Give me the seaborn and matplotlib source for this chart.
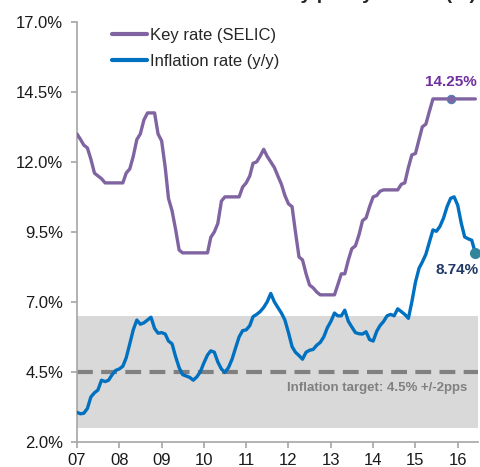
import numpy as np
import pandas as pd
import matplotlib
matplotlib.use("Agg")
import matplotlib.pyplot as plt
import seaborn as sns

# monthly observations, Jan 2007 - Jun 2016
start_month = "2007-01"
n_months = 114

selic = [
    13.0, 12.8, 12.6, 12.5, 12.1, 11.6, 11.5, 11.4, 11.25, 11.25, 11.25, 11.25,   # 2007
    11.25, 11.25, 11.6, 11.75, 12.2, 12.8, 13.0, 13.5, 13.75, 13.75, 13.75, 13.0,  # 2008
    12.75, 11.8, 10.7, 10.25, 9.6, 8.85, 8.75, 8.75, 8.75, 8.75, 8.75, 8.75,       # 2009
    8.75, 8.75, 9.3, 9.5, 9.8, 10.6, 10.75, 10.75, 10.75, 10.75, 10.75, 11.1,      # 2010
    11.25, 11.5, 11.95, 12.0, 12.2, 12.45, 12.2, 12.0, 11.8, 11.5, 11.2, 10.8,     # 2011
    10.5, 10.4, 9.5, 8.6, 8.5, 8.0, 7.6, 7.5, 7.35, 7.25, 7.25, 7.25,              # 2012
    7.25, 7.25, 7.6, 8.0, 8.0, 8.5, 8.9, 9.0, 9.4, 9.9, 10.0, 10.4,                # 2013
    10.75, 10.8, 10.95, 11.0, 11.0, 11.0, 11.0, 11.0, 11.2, 11.25, 11.8, 12.25,    # 2014
    12.3, 12.8, 13.25, 13.35, 13.8, 14.25, 14.25, 14.25, 14.25, 14.25, 14.25, 14.25,  # 2015
    14.25, 14.25, 14.25, 14.25, 14.25, 14.25,                                      # 2016
]

inflation = [
    3.05, 3.0, 3.02, 3.19, 3.6, 3.75, 3.85, 4.2, 4.15, 4.2, 4.4, 4.55,             # 2007
    4.6, 4.7, 5.0, 5.5, 6.0, 6.35, 6.2, 6.25, 6.35, 6.45, 6.05, 5.88,              # 2008
    5.9, 5.85, 5.6, 5.5, 5.05, 4.65, 4.4, 4.35, 4.3, 4.2, 4.32, 4.5,               # 2009
    4.82, 5.1, 5.25, 5.2, 4.85, 4.6, 4.48, 4.65, 4.95, 5.35, 5.75, 5.97,           # 2010
    6.0, 6.15, 6.47, 6.55, 6.65, 6.8, 7.0, 7.3, 7.0, 6.8, 6.6, 6.35,               # 2011
    5.9, 5.4, 5.2, 5.08, 4.95, 5.2, 5.27, 5.3, 5.45, 5.55, 5.75, 6.07,             # 2012
    6.3, 6.6, 6.5, 6.5, 6.7, 6.3, 6.1, 5.9, 5.86, 5.85, 5.93, 5.65,                # 2013
    5.6, 5.95, 6.15, 6.3, 6.5, 6.55, 6.5, 6.75, 6.65, 6.55, 6.41, 7.0,             # 2014
    7.7, 8.2, 8.42, 8.7, 9.13, 9.57, 9.52, 9.7, 10.0, 10.4, 10.7, 10.75,           # 2015
    10.45, 9.8, 9.32, 9.25, 9.2, 8.74,                                             # 2016
]

target = 4.5
target_band = 2.0
selic_marker_month = "2015-11"
year_labels = ["07", "08", "09", "10", "11", "12", "13", "14", "15", "16"]

purple = "#8064A2"
blue = "#0070C0"

dates = pd.date_range(start_month, periods=n_months, freq="MS")
df = pd.DataFrame({"date": dates, "Key rate (SELIC)": selic,
                   "Inflation rate (y/y)": inflation})
long_df = df.melt(id_vars="date", var_name="series", value_name="rate")

sns.set_style("white")
plt.rcParams["font.family"] = ["Liberation Sans", "DejaVu Sans"]

fig = plt.figure(figsize=(4.81, 4.67), dpi=100)
ax = fig.add_axes([0.160, 0.054, 0.834, 0.899])

# inflation target band and centre line
ax.axhspan(target - target_band, target + target_band, color="#D9D9D9", lw=0, zorder=0)
ax.axhline(target, color="#808080", lw=3, dashes=(3.8, 2.0), zorder=1)

sns.lineplot(data=long_df, x="date", y="rate", hue="series",
             palette=[purple, blue], linewidth=2.4, ax=ax, zorder=3)

# end-point markers and labels
m_date = pd.Timestamp(selic_marker_month)
m_val = df.loc[df["date"] == m_date, "Key rate (SELIC)"].iloc[0]
ax.plot(m_date, m_val, "o", ms=6, color=purple, mec="#4F81BD", mew=0.8, zorder=4)
ax.annotate(f"{m_val:.2f}%", (m_date, m_val), xytext=(0, 7.5), textcoords="offset points",
            ha="center", va="bottom", fontsize=11, fontweight="bold", color="#7030A0")

l_date = df["date"].iloc[-1]
l_val = df["Inflation rate (y/y)"].iloc[-1]
ax.plot(l_date, l_val, "o", ms=7, color="#31859C", zorder=4, clip_on=False)
ax.annotate(f"{l_val:.2f}%", (l_date, l_val), xytext=(-13, -12), textcoords="offset points",
            ha="center", va="center", fontsize=11, fontweight="bold", color="#1F3864")

ax.text(pd.Timestamp("2016-03-20"), target - 0.58,
        f"Inflation target: {target:g}% +/-{target_band:g}pps",
        ha="right", va="center", fontsize=9.5, fontweight="bold", color="#808080")

ax.set_xlim(pd.Timestamp("2007-01-01"), pd.Timestamp("2016-06-25"))
ax.set_ylim(2, 17)
ax.set_yticks(np.arange(2, 17.1, 2.5))
ax.yaxis.set_major_formatter(plt.FuncFormatter(lambda v, p: f"{v:.1f}%"))
ax.set_xticks(pd.date_range("2007-01-01", periods=len(year_labels), freq="YS"))
ax.set_xticklabels(year_labels)
ax.set_xlabel("")
ax.set_ylabel("")

for s in ["top", "right"]:
    ax.spines[s].set_visible(False)
for s in ["left", "bottom"]:
    ax.spines[s].set_color("#A6A6A6")
    ax.spines[s].set_linewidth(1.2)
ax.tick_params(axis="both", direction="out", length=4, width=1.2, color="#A6A6A6",
               labelsize=12, labelcolor="#1a1a1a", left=True, bottom=True)
ax.tick_params(axis="y", pad=6)
ax.tick_params(axis="x", pad=4)

leg = ax.legend(loc="upper left", bbox_to_anchor=(0.088, 0.985), frameon=False,
                fontsize=12, handlelength=2.1, handletextpad=0.15, labelspacing=0.65,
                borderpad=0, borderaxespad=0)
for line in leg.get_lines():
    line.set_linewidth(3)

# title sits above the canvas, only its descenders show
fig.text(0.99, 1.0 + 1.0 / 467, "Inflation and monetary policy stance (%)", ha="right",
         va="baseline", fontsize=14, fontweight="bold")

fig.savefig("out.png", dpi=100)
